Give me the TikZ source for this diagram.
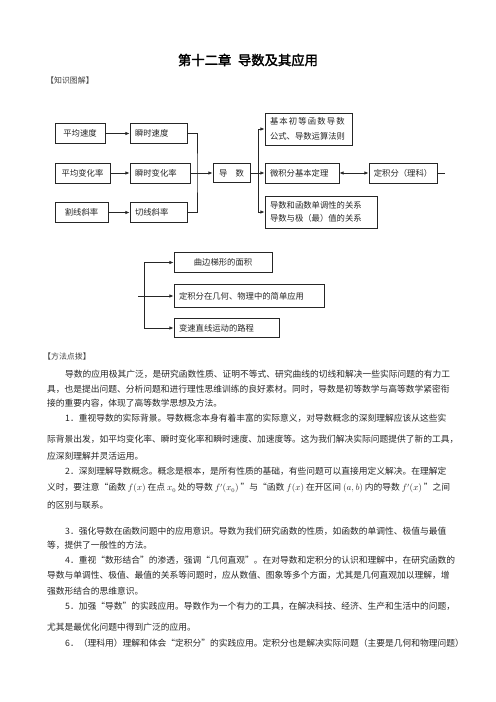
\documentclass[tikz,border=0pt]{standalone}
\usepackage{fontspec}
\setmainfont{Noto Sans CJK SC}
\newfontfamily\titlefont[FakeBold=2]{Noto Sans CJK SC}
\newfontfamily\spacedfont[LetterSpace=14]{Noto Sans CJK SC}
\usetikzlibrary{arrows.meta}
\begin{document}
\begin{tikzpicture}[x=1.2pt,y=-1.2pt,
  line/.style={line width=0.9pt,draw=black!85},
  arr/.style={line,-{Latex[length=5pt,width=4pt]}},
  box/.style={line,inner sep=0pt,minimum height=24pt,text=black!85,font=\fontsize{10pt}{12pt}\selectfont},
  lbox/.style={box,align=left,inner xsep=6pt},
  head/.style={anchor=west,inner sep=0pt,text=black!75,font=\fontsize{9.5pt}{12pt}\selectfont},
  txt/.style={anchor=west,inner sep=0pt,text=black!85,font=\fontsize{10.5pt}{12pt}\selectfont}]
  \path[use as bounding box,fill=white] (0,0) rectangle (496,702);
  \node[inner sep=0pt,font=\titlefont\fontsize{16pt}{18pt}\selectfont] (title) at (248,60) {第十二章\hspace{0.5em}导数及其应用};
  \node[head] (h1) at (46,80.7) {【知识图解】};
  \node[box,minimum width=60pt] (a1) at (80,133.5) {平均速度};
  \node[box,minimum width=66pt] (a2) at (82.5,173) {平均变化率};
  \node[box,minimum width=63.6pt] (a3) at (81.5,212.5) {割线斜率};
  \node[lbox,text width=56.4pt] (b1) at (158.5,133.5) {瞬时速度};
  \node[lbox,text width=60pt] (b2) at (160,173) {瞬时变化率};
  \node[lbox,text width=56.4pt] (b3) at (158.5,212.5) {切线斜率};
  \node[box,minimum width=44.4pt,minimum height=23pt] (ds) at (231.5,173) {导\quad 数};
  \node[lbox,text width=92.4pt,minimum height=38.4pt,font=\fontsize{10pt}{18pt}\selectfont] (c1) at (308.5,129) {{\spacedfont 基本初等函数导数}\\公式、导数运算法则};
  \node[lbox,text width=76.8pt] (c2) at (302,173) {微积分基本定理};
  \node[box,minimum width=81.6pt] (d) at (403,173) {定积分（理科）};
  \node[lbox,text width=122.4pt,minimum height=38.4pt,font=\fontsize{10pt}{15.5pt}\selectfont] (c3) at (321,212) {导数和函数单调性的关系\\导数与极（最）值的关系};
  \node[box,minimum width=117.6pt] (e1) at (223,262.5) {曲边梯形的面积};
  \node[lbox,text width=168pt,minimum height=27.6pt] (e2) at (249,296) {定积分在几何、物理中的简单应用};
  \node[lbox,text width=114pt,minimum height=23.4pt] (e3) at (226.5,328) {变速直线运动的路程};
  \coordinate (jl) at (197,173);
  \coordinate (jr) at (258,173);
  \coordinate (dend) at (445,173);
  \coordinate (jb) at (144,296);
  \coordinate (jbs) at (138,296);
  \draw[arr] (a1) -- (b1);
  \draw[arr] (a2) -- (b2);
  \draw[arr] (a3) -- (b3);
  \draw[line] (b1.east) -| (jl) |- (b3.east);
  \draw[arr] (b2) -- (ds);
  \draw[line] (ds) -- (jr);
  \draw[arr] (jr) |- (c1.west);
  \draw[arr] (jr) -- (c2);
  \draw[arr] (jr) |- (c3.west);
  \draw[line,{Latex[length=5pt,width=4pt]}-{Latex[length=5pt,width=4pt]}] (c2) -- (d);
  \draw[line] (d) -- (dend);
  \draw[line] (jbs) -- (jb);
  \draw[arr] (jb) |- (e1.west);
  \draw[arr] (jb) -- (e2);
  \draw[arr] (jb) |- (e3.west);
  \node[head] (h2) at (43,356.7) {【方法点拨】};
  \node[txt] (t1) at (65,374.3) {导数的应用极其广泛，是研究函数性质、证明不等式、研究曲线的切线和解决一些实际问题的有力工};
  \node[txt] (t2) at (47,389.3) {具，也是提出问题、分析问题和进行理性思维训练的良好素材。同时，导数是初等数学与高等数学紧密衔};
  \node[txt] (t3) at (47,403.3) {接的重要内容，体现了高等数学思想及方法。};
  \node[txt] (t4) at (65,418.3) {1．重视导数的实际背景。导数概念本身有着丰富的实际意义，对导数概念的深刻理解应该从这些实};
  \node[txt] (t5) at (47,439) {际背景出发，如平均变化率、瞬时变化率和瞬时速度、加速度等。这为我们解决实际问题提供了新的工具，};
  \node[txt] (t6) at (47,455.7) {应深刻理解并灵活运用。};
  \node[txt] (t7) at (65,471.7) {2．深刻理解导数概念。概念是根本，是所有性质的基础，有些问题可以直接用定义解决。在理解定};
  \node[txt] (t8) at (47,488.3) {义时，要注意“函数 $f(x)$ 在点 $x_0$ 处的导数 $f'(x_0)$ ”与“函数 $f(x)$ 在开区间 $(a,b)$ 内的导数 $f'(x)$ ”之间};
  \node[txt] (t9) at (47,505) {的区别与联系。};
  \node[txt] (t10) at (65,531) {3．强化导数在函数问题中的应用意识。导数为我们研究函数的性质，如函数的单调性、极值与最值};
  \node[txt] (t11) at (47,545.7) {等，提供了一般性的方法。};
  \node[txt] (t12) at (65,560.7) {4．重视“数形结合”的渗透，强调“几何直观”。在对导数和定积分的认识和理解中，在研究函数的};
  \node[txt] (t13) at (47,575.7) {导数与单调性、极值、最值的关系等问题时，应从数值、图象等多个方面，尤其是几何直观加以理解，增};
  \node[txt] (t14) at (47,590.7) {强数形结合的思维意识。};
  \node[txt] (t15) at (65,606) {5．加强“导数”的实践应用。导数作为一个有力的工具，在解决科技、经济、生产和生活中的问题，};
  \node[txt] (t16) at (47,627.3) {尤其是最优化问题中得到广泛的应用。};
  \node[txt] (t17) at (65,643.3) {6．（理科用）理解和体会“定积分”的实践应用。定积分也是解决实际问题（主要是几何和物理问题）};
\end{tikzpicture}
\end{document}
